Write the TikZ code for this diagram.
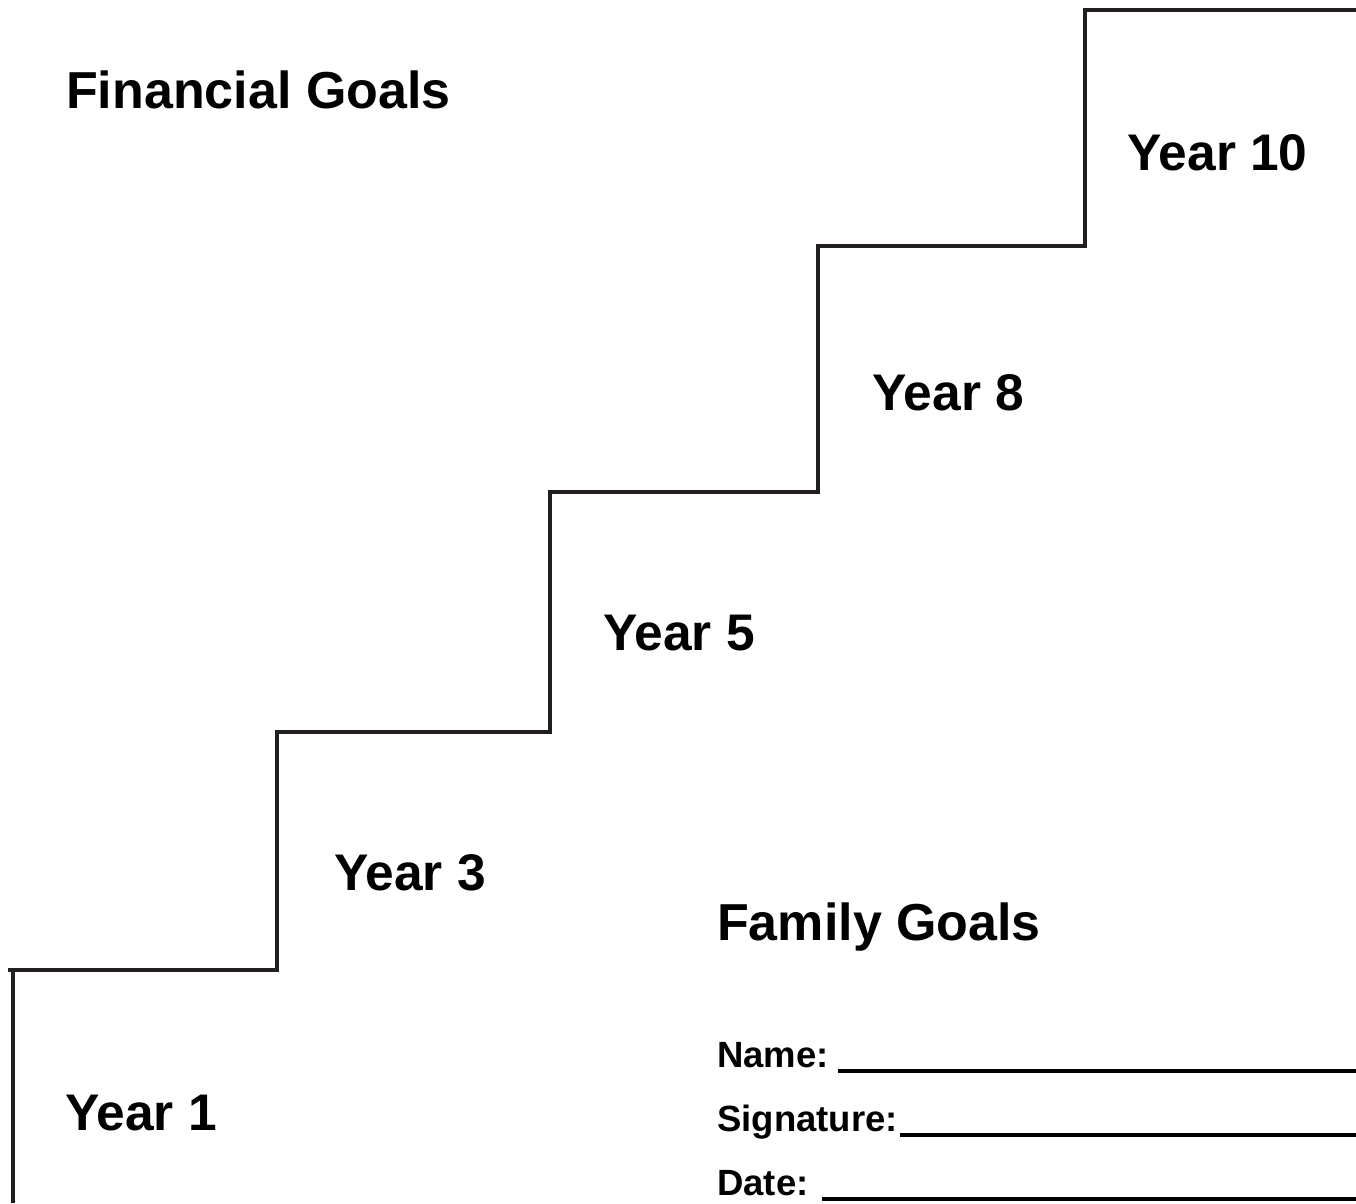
\documentclass[tikz,border=0pt]{standalone}
\usepackage{fontspec}
\setmainfont{Liberation Sans}
\definecolor{stair}{HTML}{231F20}
\begin{document}
\begin{tikzpicture}[x=1pt,y=-1pt,
  big/.style={anchor=base west,inner sep=0pt,font=\fontsize{52}{60}\selectfont\bfseries},
  year/.style={anchor=base west,inner sep=0pt,font=\fontsize{51.5}{60}\selectfont\bfseries},
  form/.style={anchor=base west,inner sep=0pt,font=\fontsize{36.5}{42}\selectfont\bfseries},
  stairline/.style={draw=stair,line width=4.5pt},
  blank/.style={draw=black,line width=4pt}]
\useasboundingbox (0,0) rectangle (1356,1203);
% staircase
\draw[stairline] (13,1203) -- (13,970);
\draw[stairline] (8,970) -- (277,970) -- (277,732) -- (550,732) -- (550,492)
  -- (818,492) -- (818,246) -- (1085,246) -- (1085,10) -- (1356,10);
% labels
\node[big] (fin) at (66,108) {Financial Goals};
\node[year] (y10) at (1127,170) {Year 10};
\node[year] (y8) at (872,410) {Year 8};
\node[year] (y5) at (603,650) {Year 5};
\node[year] (y3) at (334,890) {Year 3};
\node[year] (y1) at (65,1130) {Year 1};
\node[big] (fam) at (717,940) {Family Goals};
\node[form] (name) at (717,1067) {Name:};
\node[form] (sig) at (717,1131) {Signature:};
\node[form] (date) at (717,1195) {Date:};
\coordinate (nameend) at (1356,1071);
\coordinate (sigend) at (1356,1135);
\coordinate (dateend) at (1356,1199);
\draw[blank] (838,1071) -- (nameend);
\draw[blank] (900,1135) -- (sigend);
\draw[blank] (822,1199) -- (dateend);
\end{tikzpicture}
\end{document}
